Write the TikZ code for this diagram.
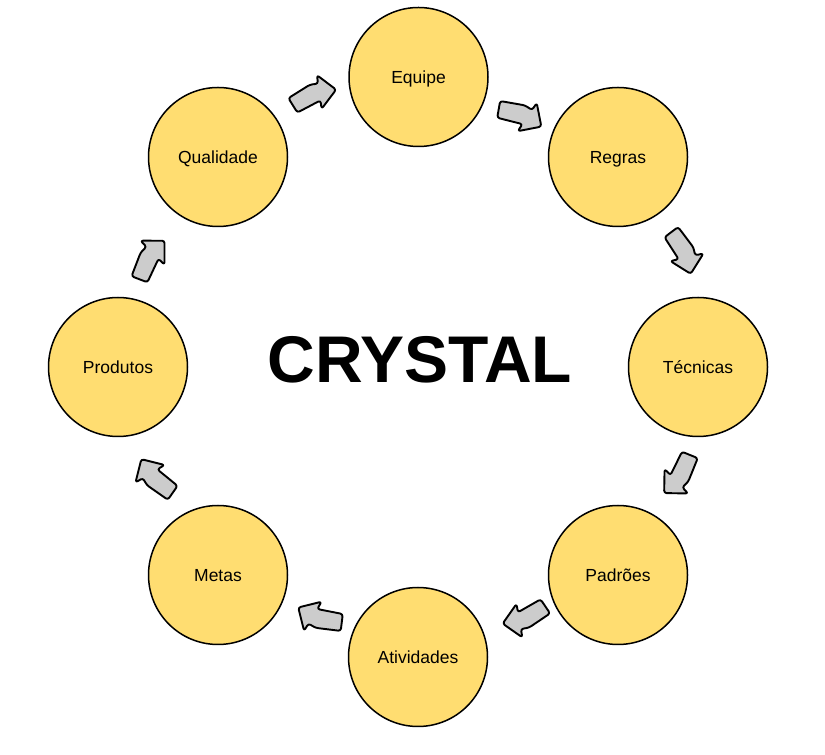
\documentclass[tikz,border=0pt]{standalone}
\usepackage{fontspec}
\setmainfont{Liberation Sans}
\definecolor{circfill}{HTML}{FFDD71}
\definecolor{arrfill}{HTML}{CCCCCC}
\tikzset{
  stage/.style={circle, draw=black, line width=1.5pt, fill=circfill, minimum size=139pt,
    inner sep=0pt, text height=12.6pt, text depth=0pt, font=\fontsize{17.5pt}{20pt}\selectfont},
  bentarrow/.pic={
    \draw[fill=arrfill, draw=black, line width=1.9pt, rounded corners=2.5pt, line join=round, xshift=-23pt]
      (1.77,-8.31) -- (-1.77,8.31) -- (23,13.58) -- (31.14,11.85) -- (32.91,20.17)
      -- (46,0) -- (25.83,-13.09) -- (27.60,-4.77) -- cycle;
  }
}
\begin{document}
\begin{tikzpicture}[x=1pt,y=1pt]
\useasboundingbox (0,0) rectangle (825,755);
\node[stage] (equipe) at (418.5,678) {Equipe};
\node[stage] (regras) at (618,598) {Regras};
\node[stage] (tecnicas) at (698,388) {Técnicas};
\node[stage] (padroes) at (618,180) {Padrões};
\node[stage] (atividades) at (418,98) {Atividades};
\node[stage] (metas) at (218,180) {Metas};
\node[stage] (produtos) at (118,388) {Produtos};
\node[stage] (qualidade) at (218,598) {Qualidade};
\node[font=\bfseries\fontsize{66pt}{70pt}\selectfont, inner sep=0pt] (crystal) at (420,395.5) {CRYSTAL};
\pic[rotate=20] at (314.5,657.5) {bentarrow};
\pic[rotate=-22] at (520,637) {bentarrow};
\pic[rotate=-65] at (681,502) {bentarrow};
\pic[rotate=-124] at (677,281) {bentarrow};
\pic[rotate=-158] at (524,140) {bentarrow};
\pic[rotate=161] at (320,140) {bentarrow};
\pic[rotate=133] at (157,279) {bentarrow};
\pic[rotate=57] at (152,495) {bentarrow};
\end{tikzpicture}
\end{document}
